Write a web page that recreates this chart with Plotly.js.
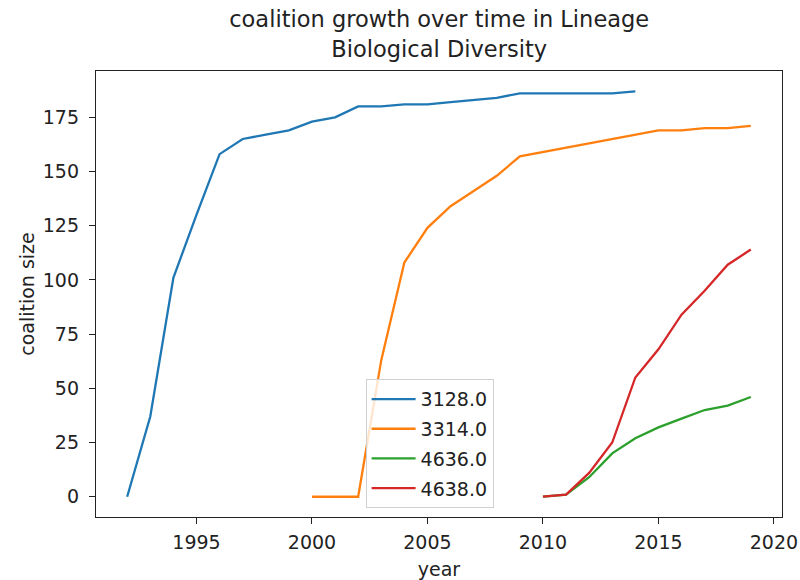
<!DOCTYPE html>
<html>
<head>
<meta charset="utf-8">
<script src="https://cdn.plot.ly/plotly-3.0.1.min.js"></script>
<style>body{margin:0;padding:0;background:#fff;}#chart{width:800px;height:580px;}</style>
</head>
<body>
<div id="chart"></div>
<script>
const seriesNames = ["3128.0", "3314.0", "4636.0", "4638.0"];
const colors = ["#1f77b4", "#ff7f0e", "#2ca02c", "#d62728"];

const years3128 = [1992,1993,1994,1995,1996,1997,1998,1999,2000,2001,2002,2003,2004,2005,2006,2007,2008,2009,2010,2011,2012,2013,2014];
const size3128  = [0,37,101,130,158,165,167,169,173,175,180,180,181,181,182,183,184,186,186,186,186,186,187];

const years3314 = [2000,2001,2002,2003,2004,2005,2006,2007,2008,2009,2010,2011,2012,2013,2014,2015,2016,2017,2018,2019];
const size3314  = [0,0,0,63,108,124,134,141,148,157,159,161,163,165,167,169,169,170,170,171];

const years4636 = [2010,2011,2012,2013,2014,2015,2016,2017,2018,2019];
const size4636  = [0,1,9,20,27,32,36,40,42,46];

const years4638 = [2010,2011,2012,2013,2014,2015,2016,2017,2018,2019];
const size4638  = [0,1,11,25,55,68,84,95,107,114];

const xTicks = [1995,2000,2005,2010,2015,2020];
const yTicks = [0,25,50,75,100,125,150,175];

const xs = [years3128, years3314, years4636, years4638];
const ys = [size3128, size3314, size4636, size4638];

const traces = seriesNames.map((n, i) => ({
  x: xs[i], y: ys[i], name: n, type: "scatter", mode: "lines",
  legendgroup: "g" + i,
  line: {color: colors[i], width: 2.3}
}));

const font = "DejaVu Sans, sans-serif";
const layout = {
  width: 800, height: 580,
  paper_bgcolor: "#fff", plot_bgcolor: "#fff",
  margin: {l: 96, r: 18, t: 71, b: 63},
  font: {family: font, size: 19, color: "#222"},
  title: {text: "coalition growth over time in Lineage<br>Biological Diversity",
          font: {family: font, size: 22.5, color: "#222"},
          x: 0.549, xanchor: "center", yref: "container", y: 0.953, yanchor: "top"},
  xaxis: {range: [1990.65, 2020.35], tickvals: xTicks,
          ticks: "outside", ticklen: 6, tickcolor: "#222", showgrid: false, zeroline: false,
          showline: true, linecolor: "#222", linewidth: 1.2, mirror: true,
          tickfont: {size: 19}, automargin: false, ticklabelstandoff: 2,
          title: {text: "year", font: {size: 19}, standoff: 12}},
  yaxis: {range: [-9.35, 196.35], tickvals: yTicks,
          ticks: "outside", ticklen: 6, tickcolor: "#222", showgrid: false, zeroline: false,
          showline: true, linecolor: "#222", linewidth: 1.2, mirror: true,
          tickfont: {size: 19}, automargin: false, ticklabelstandoff: 6,
          title: {text: "coalition size", font: {size: 19}, standoff: 3}},
  legend: {x: 0.393, y: 0.309, xanchor: "left", yanchor: "top",
           bgcolor: "rgba(255,255,255,0.8)", bordercolor: "#d0d0d0", borderwidth: 1,
           traceorder: "grouped", tracegroupgap: 2, itemwidth: 44, entrywidth: 140,
           font: {size: 19, color: "#222"}},
  showlegend: true
};

Plotly.newPlot("chart", traces, layout, {displayModeBar: false, staticPlot: true});
</script>
</body>
</html>
